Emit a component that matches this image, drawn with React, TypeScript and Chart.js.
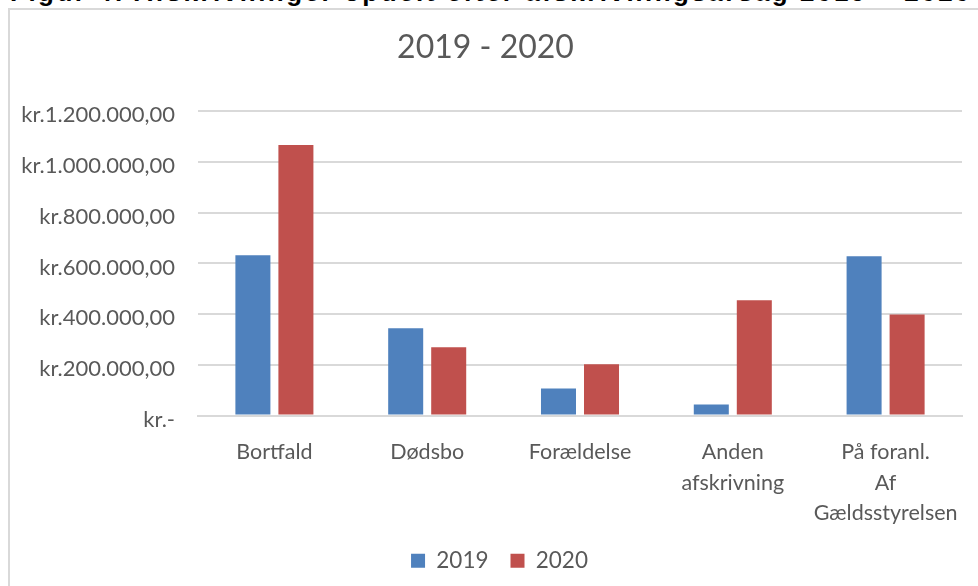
import React, { useEffect, useRef } from "react";
import { Chart, registerables } from "chart.js";

Chart.register(...registerables);

const categories: (string | string[])[] = [
  "Bortfald",
  "Dødsbo",
  "Forældelse",
  ["Anden", "afskrivning"],
  ["På foranl.", "Af", "Gældsstyrelsen"],
];
const values2019 = [632000, 344000, 107000, 43000, 628000];
const values2020 = [1067000, 269000, 202000, 455000, 399000];
const seriesNames = ["2019", "2020"];
const yTickLabels = [
  "kr.-",
  "kr.200.000,00",
  "kr.400.000,00",
  "kr.600.000,00",
  "kr.800.000,00",
  "kr.1.000.000,00",
  "kr.1.200.000,00",
];
const chartTitle = "2019 - 2020";
const heading = "Figur 4: Afskrivninger opdelt efter afskrivningsårsag 2019 – 2020";

const TEXT = "#595959";
const GRID = "#d9d9d9";
const FONT = "Lato, 'Open Sans', sans-serif";

const shiftLegend = {
  id: "shiftLegend",
  afterLayout(chart: any) {
    const l = chart.legend;
    if (l) {
      l.left += 14;
      l.right += 14;
    }
  },
};

export default function App() {
  const canvasRef = useRef<HTMLCanvasElement | null>(null);

  useEffect(() => {
    const canvas = canvasRef.current;
    if (!canvas) return;
    const chart = new Chart(canvas, {
      type: "bar",
      data: {
        labels: categories,
        datasets: [
          {
            label: seriesNames[0],
            data: values2019,
            backgroundColor: "#4F81BD",
            categoryPercentage: 0.563,
            barPercentage: 0.814,
          },
          {
            label: seriesNames[1],
            data: values2020,
            backgroundColor: "#C0504D",
            categoryPercentage: 0.563,
            barPercentage: 0.814,
          },
        ],
      },
      plugins: [shiftLegend],
      options: {
        animation: false,
        responsive: false,
        maintainAspectRatio: false,
        layout: { padding: { left: 0, right: 16, top: 0, bottom: 4 } },
        plugins: {
          title: {
            display: true,
            text: chartTitle,
            color: TEXT,
            font: { family: FONT, size: 32, weight: "normal", lineHeight: 1.2 },
            padding: { top: 19, bottom: 45 },
          },
          legend: {
            position: "bottom",
            labels: {
              color: TEXT,
              font: { family: FONT, size: 22.5 },
              boxWidth: 14,
              boxHeight: 14,
              padding: 22,
            },
          },
          tooltip: { enabled: false },
        },
        scales: {
          x: {
            grid: { display: false, drawTicks: false },
            border: { display: true, color: GRID, width: 2 },
            ticks: {
              color: TEXT,
              font: { family: FONT, size: 21.5, lineHeight: 1.4 },
              padding: 22,
              maxRotation: 0,
              minRotation: 0,
              autoSkip: false,
            },
            afterFit: (scale: any) => {
              scale.height = 112;
              scale.paddingLeft = 0;
              scale.paddingRight = 0;
            },
          },
          y: {
            min: 0,
            max: 1200000,
            grid: { color: GRID, lineWidth: 2, drawTicks: false },
            border: { display: false },
            ticks: {
              stepSize: 200000,
              color: TEXT,
              font: { family: FONT, size: 22 },
              padding: 23,
              labelOffset: 4,
              callback: (_v: any, i: number) => yTickLabels[i],
            },
            afterFit: (scale: any) => {
              scale.width = 189;
            },
          },
        },
      },
    });
    return () => chart.destroy();
  }, []);

  return (
    <div
      style={{
        position: "fixed",
        left: 0,
        top: 0,
        width: 978,
        height: 586,
        overflow: "hidden",
        background: "#ffffff",
      }}
    >
      <div
        style={{
          position: "absolute",
          left: 10,
          top: -21,
          fontFamily: "'Liberation Sans', Arial, sans-serif",
          fontWeight: "bold",
          fontSize: 26,
          lineHeight: "26px",
          letterSpacing: "2.5px",
          whiteSpace: "nowrap",
          color: "#000",
        }}
      >
        {heading}
      </div>
      <div
        style={{
          position: "absolute",
          left: 8,
          top: 8,
          width: 1000,
          height: 600,
          border: `2px solid ${GRID}`,
          boxSizing: "border-box",
        }}
      />
      <canvas
        ref={canvasRef}
        width={969}
        height={577}
        style={{ position: "absolute", left: 9, top: 9, width: 969, height: 577 }}
      />
    </div>
  );
}
